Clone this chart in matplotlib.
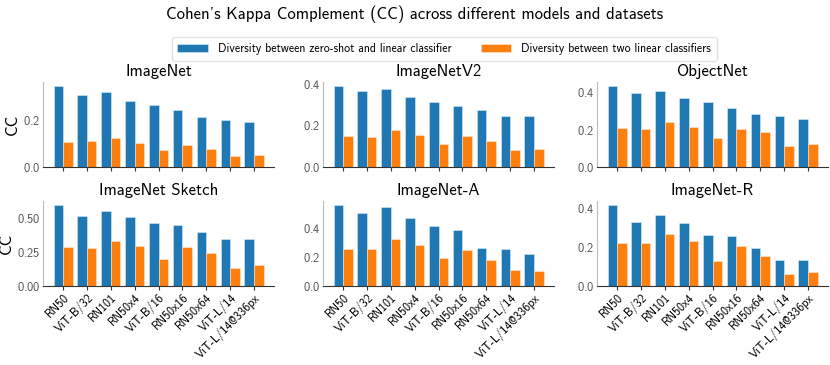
import numpy as np
import matplotlib
matplotlib.use("Agg")
import matplotlib.pyplot as plt
from matplotlib.ticker import MaxNLocator

plt.rcParams['font.family'] = ['cmss10', 'DejaVu Sans']
plt.rcParams['mathtext.fontset'] = 'cm'
plt.rcParams['axes.formatter.use_mathtext'] = True
plt.rcParams['axes.unicode_minus'] = False

# --- data ---
models = ["RN50", "ViT-B/32", "RN101", "RN50x4", "ViT-B/16",
          "RN50x16", "RN50x64", "ViT-L/14", "ViT-L/14@336px"]
datasets = ["ImageNet", "ImageNetV2", "ObjectNet",
            "ImageNet Sketch", "ImageNet-A", "ImageNet-R"]

zs_lin = {
    "ImageNet":        [0.348, 0.308, 0.321, 0.283, 0.265, 0.247, 0.217, 0.201, 0.193],
    "ImageNetV2":      [0.389, 0.366, 0.374, 0.335, 0.310, 0.295, 0.273, 0.245, 0.245],
    "ObjectNet":       [0.434, 0.396, 0.405, 0.368, 0.350, 0.318, 0.283, 0.276, 0.260],
    "ImageNet Sketch": [0.596, 0.515, 0.549, 0.507, 0.461, 0.451, 0.399, 0.345, 0.347],
    "ImageNet-A":      [0.556, 0.503, 0.543, 0.467, 0.411, 0.382, 0.262, 0.257, 0.218],
    "ImageNet-R":      [0.417, 0.328, 0.366, 0.326, 0.264, 0.259, 0.198, 0.136, 0.134],
}
lin_lin = {
    "ImageNet":        [0.109, 0.111, 0.124, 0.105, 0.075, 0.094, 0.078, 0.047, 0.052],
    "ImageNetV2":      [0.147, 0.144, 0.176, 0.152, 0.110, 0.147, 0.126, 0.081, 0.085],
    "ObjectNet":       [0.210, 0.203, 0.239, 0.217, 0.154, 0.206, 0.185, 0.111, 0.122],
    "ImageNet Sketch": [0.286, 0.283, 0.330, 0.296, 0.202, 0.288, 0.244, 0.131, 0.155],
    "ImageNet-A":      [0.257, 0.255, 0.326, 0.283, 0.195, 0.246, 0.179, 0.108, 0.103],
    "ImageNet-R":      [0.221, 0.222, 0.266, 0.234, 0.129, 0.205, 0.157, 0.062, 0.072],
}

labels = ["Diversity between zero-shot and linear classifier",
          "Diversity between two linear classifiers"]
colors = ["#1f77b4", "#ff7f0e"]

# --- plot ---
fig = plt.figure(figsize=(8.3, 3.65), dpi=100)
lefts = [43 / 830, 323 / 830, 597 / 830]
bottoms = [1 - 167 / 365, 1 - 286 / 365]
w, h = 231 / 830, 85 / 365

x = np.arange(len(models))
bw = 0.4
handles = None
for i, name in enumerate(datasets):
    r, c = divmod(i, 3)
    ax = fig.add_axes([lefts[c], bottoms[r], w, h])
    b1 = ax.bar(x - bw / 2, zs_lin[name], bw, color=colors[0],
                edgecolor=(1, 1, 1, 0.45), linewidth=0.6, label=labels[0])
    b2 = ax.bar(x + bw / 2, lin_lin[name], bw, color=colors[1],
                edgecolor=(1, 1, 1, 0.45), linewidth=0.6, label=labels[1])
    handles = [b1, b2]
    ax.set_title(name, fontsize=12, pad=4)
    ax.yaxis.set_major_locator(MaxNLocator(nbins=3, steps=[1, 2, 2.5, 5, 10]))
    ax.tick_params(axis='y', length=0, labelsize=9, labelcolor='#555555', pad=2)
    ax.tick_params(axis='x', length=3, color='#333333', pad=1)
    ax.set_xticks(x)
    if r == 1:
        ax.set_xticklabels(models, rotation=45, ha='right', va='top',
                           rotation_mode='anchor', fontsize=8.6)
    else:
        ax.set_xticklabels([])
    for s in ['top', 'right']:
        ax.spines[s].set_visible(False)
    ax.spines['left'].set_color('#bbbbbb')
    ax.spines['bottom'].set_color('#333333')
    if c == 0:
        ax.set_ylabel("CC", fontsize=12, labelpad=2)

fig.suptitle("Cohen's Kappa Complement (CC) across different models and datasets",
             fontsize=12, y=0.985)
fig.legend(handles, labels, loc='upper center', bbox_to_anchor=(0.535, 0.915),
           ncol=2, fontsize=8.5, frameon=True, edgecolor='#dddddd',
           handlelength=2.6, columnspacing=2.5, borderpad=0.5)

fig.savefig("out.png", dpi=100)
